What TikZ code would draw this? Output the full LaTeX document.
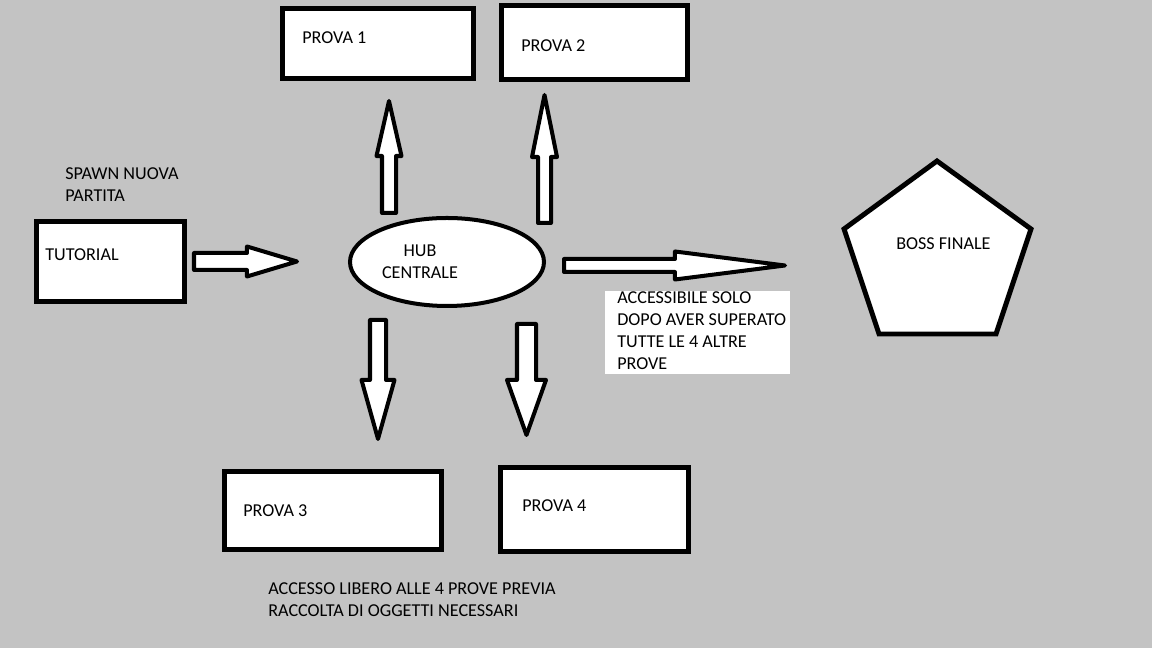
\documentclass[tikz,border=0pt]{standalone}
\usepackage{fontspec}
\setmainfont{Carlito}
\usepackage{tikz}
\usetikzlibrary{calc}
\usetikzlibrary{shapes.geometric}
\definecolor{paintgray}{RGB}{195,195,195}
\newcommand\pxpt{0.7113}
\tikzset{boxsize/.style 2 args = {minimum width = #1*0.025cm, minimum height = #2*0.025cm}}
\tikzset{box/.style = {draw, fill = white, line width = 3.5pt, inner sep = 0}}
\tikzset{lbl/.style = {inner sep = 0, anchor = base west, align = left,
                       font = \fontsize{12.9}{15.8}\selectfont}}
\tikzset{blockarr/.style = {draw, fill = white, line width = 2.85pt, line join = round}}
\newcommand\blockarrow[5]{%
  \draw [blockarr] let \p1 = (#1), \p2 = (#2),
      \n1 = {veclen(\x2-\x1,\y2-\y1)},
      \n2 = {(\x2-\x1)/\n1}, \n3 = {(\y2-\y1)/\n1},
      \n4 = {#3*\pxpt}, \n5 = {#4*\pxpt}, \n6 = {#5*\pxpt},
      \p3 = ({\x2-\n6*\n2}, {\y2-\n6*\n3}) in
    ({\x1-\n4*\n3}, {\y1+\n4*\n2}) -- ({\x3-\n4*\n3}, {\y3+\n4*\n2})
    -- ({\x3-\n5*\n3}, {\y3+\n5*\n2}) -- (\p2)
    -- ({\x3+\n5*\n3}, {\y3-\n5*\n2}) -- ({\x3+\n4*\n3}, {\y3-\n4*\n2})
    -- ({\x1+\n4*\n3}, {\y1-\n4*\n2}) -- cycle;}

\begin{document}
\begin{tikzpicture}[x = 0.025cm, y = 0.025cm]
      \fill [paintgray] (0, 0) rectangle (1152, 648);
      \useasboundingbox (0, 0) rectangle (1152, 648);
      \node [box, boxsize = {148}{80}] (tutorial) at (110.5, 386.5) {};
      \node [box, boxsize = {191}{70}] (prova1) at (378, 604.5) {};
      \node [box, boxsize = {186}{74}] (prova2) at (594.5, 605.5) {};
      \node [box, boxsize = {217}{78}] (prova3) at (333, 137.5) {};
      \node [box, boxsize = {188}{84}] (prova4) at (594.5, 138.5) {};
      \node [box, ellipse, line width = 2.85pt, boxsize = {194}{88}] (hub) at (447, 386) {};
      \draw [box] (937, 487) -- (1031, 419) -- (996, 314) -- (879, 314) -- (844, 419) -- cycle;
      \node [fill = white, inner sep = 0, boxsize = {185}{83}] (note) at (697.5, 315.5) {};
      \node [lbl] (spawn) at (65, 446) {SPAWN NUOVA\\PARTITA};
      \node [lbl] (tutorialtxt) at (45, 387) {TUTORIAL};
      \node [lbl] (prova1txt) at (302, 604) {PROVA 1};
      \node [lbl] (prova2txt) at (521, 596) {PROVA 2};
      \node [lbl] (prova3txt) at (243, 131) {PROVA 3};
      \node [lbl] (prova4txt) at (522, 136) {PROVA 4};
      \node [lbl, anchor = base, align = center] (hubtxt) at (420, 369) {HUB\\CENTRALE};
      \node [lbl] (bosstxt) at (896, 398) {BOSS FINALE};
      \node [lbl] (notetxt) at (617, 278) {ACCESSIBILE SOLO\\DOPO AVER SUPERATO\\TUTTE LE 4 ALTRE\\PROVE};
      \node [lbl] (accesso) at (268, 31) {ACCESSO LIBERO ALLE 4 PROVE PREVIA\\RACCOLTA DI OGGETTI NECESSARI};
      \coordinate (a0s) at (194, 386.5);   \coordinate (a0e) at (297, 386.5);
      \coordinate (a1s) at (389, 435);     \coordinate (a1e) at (389, 547);
      \coordinate (a2s) at (544.5, 425);   \coordinate (a2e) at (544.5, 553);
      \coordinate (a3s) at (564, 382.5);   \coordinate (a3e) at (785, 382.5);
      \coordinate (a4s) at (378, 328);     \coordinate (a4e) at (378, 209);
      \coordinate (a5s) at (526.5, 324);   \coordinate (a5e) at (526.5, 213);
      \blockarrow{a0s}{a0e}{8.5}{15}{50}
      \blockarrow{a1s}{a1e}{7}{12.5}{55}
      \blockarrow{a2s}{a2e}{6.5}{12.5}{62}
      \blockarrow{a3s}{a3e}{6.5}{14}{110}
      \blockarrow{a4s}{a4e}{8}{16.5}{59}
      \blockarrow{a5s}{a5e}{9.5}{19.5}{55}
    \end{tikzpicture}
\end{document}
